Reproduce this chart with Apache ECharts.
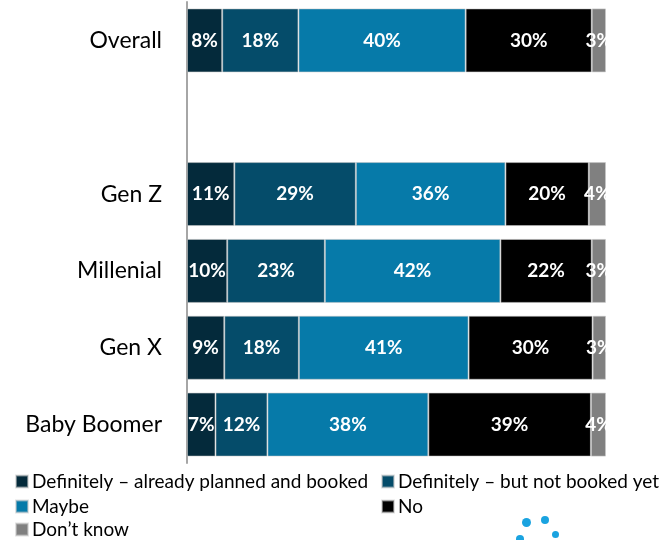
<!DOCTYPE html>
<html>
<head>
<meta charset="utf-8">
<script src="https://cdn.jsdelivr.net/npm/echarts@6/dist/echarts.min.js"></script>
<style>
  html, body { margin: 0; padding: 0; background: #fff; }
  #container { width: 661px; height: 540px; }
</style>
</head>
<body>
<div id="container"></div>
<script>
// categories, top to bottom (empty slot is the gap under Overall)
var categories = ["Overall", "", "Gen Z", "Millenial", "Gen X", "Baby Boomer"];
var seriesNames = [
  "Definitely – already planned and booked",
  "Definitely – but not booked yet",
  "Maybe",
  "No",
  "Don’t know"
];
// shares in %
var bookedValues = [8.4, "-", 11.3, 9.6, 8.9, 6.8];
var notBookedValues = [18.2, "-", 29.0, 23.3, 17.8, 12.4];
var maybeValues = [39.9, "-", 35.7, 41.9, 40.5, 38.4];
var noValues = [30.1, "-", 19.9, 21.8, 29.6, 38.8];
var dontKnowValues = [3.4, "-", 4.1, 3.4, 3.2, 3.6];
var colors = ["#042a3b", "#054c6a", "#067aa9", "#000000", "#808080"];

var myChart = echarts.init(document.getElementById("container"));
var allValues = [bookedValues, notBookedValues, maybeValues, noValues, dontKnowValues];

// one legend per item, laid out in two columns like the original
var legendSpots = [[15, 472], [381, 472], [15, 497], [381, 497], [15, 520]];
var legends = seriesNames.map(function (name, i) {
  return {
    left: legendSpots[i][0],
    top: legendSpots[i][1],
    itemWidth: 12,
    itemHeight: 12,
    icon: "rect",
    padding: 0,
    data: [name],
    textStyle: { color: "#000", fontSize: 19, padding: [0, 0, 0, -1] }
  };
});

var option = {
  animation: false,
  textStyle: { fontFamily: "Lato" },
  grid: {
    left: 187,
    top: 2,
    width: 419,
    height: 461
  },
  xAxis: {
    type: "value",
    min: 0,
    max: 100,
    show: false
  },
  yAxis: {
    type: "category",
    inverse: true,
    data: categories,
    axisTick: { show: false },
    axisLine: {
      lineStyle: { color: "#a6a6a6", width: 2 }
    },
    axisLabel: {
      color: "#000",
      fontSize: 23,
      margin: 25
    }
  },
  legend: legends,
  graphic: [
    // hides the overflow of the last labels past the bar end
    { type: "rect", left: 607, top: 0, z: 100, shape: { width: 60, height: 465 }, style: { fill: "#fff" } },
    // logo fragment
    { type: "circle", left: 522, top: 518, z: 100, shape: { r: 4.5 }, style: { fill: "#1aa3e0" } },
    { type: "circle", left: 541, top: 516, z: 100, shape: { r: 4 }, style: { fill: "#1aa3e0" } },
    { type: "circle", left: 516, top: 535, z: 100, shape: { r: 4 }, style: { fill: "#1aa3e0" } },
    { type: "circle", left: 552, top: 531, z: 100, shape: { r: 3.5 }, style: { fill: "#1aa3e0" } }
  ],
  series: allValues.map(function (vals, i) {
    return {
      name: seriesNames[i],
      type: "bar",
      stack: "total",
      barWidth: 64,
      itemStyle: {
        color: colors[i],
        borderColor: "rgba(200,200,200,0.55)",
        borderWidth: 1
      },
      label: {
        show: true,
        position: "inside",
        color: "#fff",
        fontSize: 19,
        fontWeight: "bold",
        formatter: function (p) {
          return Math.round(p.value) + "%";
        }
      },
      data: vals
    };
  })
};

myChart.setOption(option);
window.addEventListener("resize", function () {
  myChart.resize();
});
</script>
</body>
</html>
